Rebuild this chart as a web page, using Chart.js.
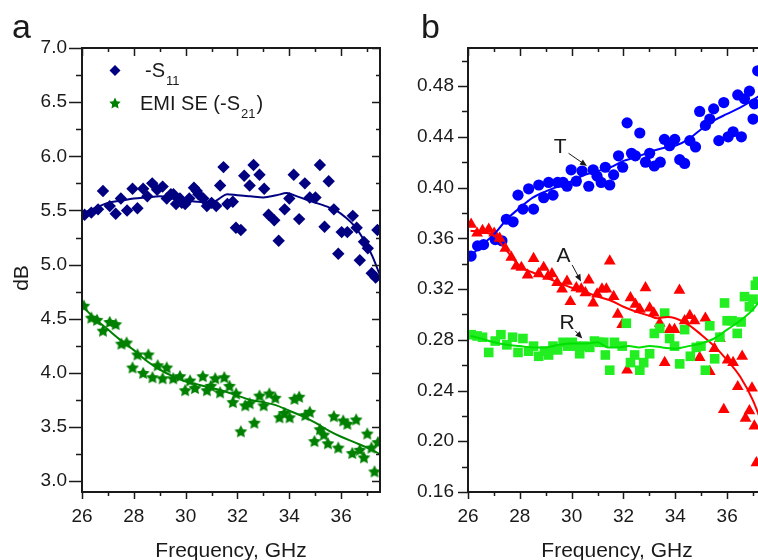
<!DOCTYPE html>
<html>
<head>
<meta charset="utf-8">
<title>EMI shielding</title>
<script src="https://cdn.jsdelivr.net/npm/chart.js@4.4.1/dist/chart.umd.min.js"></script>
<style>
html, body { margin: 0; padding: 0; background: #fff; overflow: hidden; width: 758px; height: 560px; }
#wrapA { position: absolute; left: 0; top: 0; width: 390px; height: 560px; }
#wrapB { position: absolute; left: 390px; top: 0; width: 390px; height: 560px; }
</style>
</head>
<body>
<div id="wrapA"><canvas id="chartA" width="390" height="560"></canvas></div>
<div id="wrapB"><canvas id="chartB" width="390" height="560"></canvas></div>
<script>
// tick labels
const freqTicks = [26, 28, 30, 32, 34, 36];
const dbTicks = [3.0, 3.5, 4.0, 4.5, 5.0, 5.5, 6.0, 6.5, 7.0];
const fracTicks = [0.16, 0.20, 0.24, 0.28, 0.32, 0.36, 0.40, 0.44, 0.48];

// panel a: -S11
const s11Freq = [26.1, 26.36, 26.62, 26.81, 27.07, 27.3, 27.5, 27.74, 27.95, 28.14, 28.36, 28.52, 28.71, 28.9, 29.11, 29.27, 29.43, 29.53, 29.63, 29.78, 29.85, 29.98, 30.14, 30.32, 30.43, 30.49, 30.68, 30.82, 31.0, 31.18, 31.33, 31.46, 31.61, 31.82, 31.94, 32.13, 32.26, 32.47, 32.62, 32.85, 33.03, 33.2, 33.42, 33.59, 33.82, 34.0, 34.17, 34.38, 34.6, 34.79, 35.01, 35.18, 35.36, 35.52, 35.72, 35.89, 36.02, 36.24, 36.45, 36.6, 36.72, 36.88, 37.03, 37.18, 37.33, 37.4];
const s11Val = [5.46, 5.48, 5.51, 5.68, 5.54, 5.47, 5.61, 5.50, 5.70, 5.52, 5.70, 5.63, 5.75, 5.69, 5.72, 5.61, 5.65, 5.65, 5.56, 5.61, 5.57, 5.56, 5.61, 5.71, 5.68, 5.65, 5.61, 5.54, 5.57, 5.54, 5.73, 5.90, 5.56, 5.58, 5.34, 5.32, 5.82, 5.73, 5.92, 5.83, 5.70, 5.46, 5.41, 5.22, 5.51, 5.61, 5.83, 5.42, 5.75, 5.62, 5.62, 5.92, 5.35, 5.77, 5.51, 5.10, 5.30, 5.30, 5.45, 5.34, 5.04, 5.21, 5.15, 4.92, 4.88, 5.32];
const s11FitFreq = [26.0, 26.5, 27.0, 27.5, 28.0, 28.5, 29.0, 29.5, 30.0, 30.5, 31.0, 31.3, 31.6, 32.0, 32.5, 33.0, 33.5, 33.9, 34.3, 34.9, 35.4, 35.8, 36.2, 36.5, 36.9, 37.2, 37.5];
const s11FitVal = [5.47, 5.52, 5.57, 5.59, 5.61, 5.62, 5.63, 5.61, 5.59, 5.58, 5.57, 5.61, 5.65, 5.64, 5.63, 5.62, 5.64, 5.66, 5.63, 5.58, 5.54, 5.50, 5.43, 5.36, 5.22, 5.08, 4.90];

// panel a: EMI SE (-S21)
const emiFreq = [26.07, 26.36, 26.58, 26.81, 27.07, 27.3, 27.52, 27.72, 27.95, 28.14, 28.36, 28.56, 28.72, 28.92, 29.11, 29.27, 29.52, 29.78, 29.98, 30.17, 30.36, 30.66, 30.82, 30.97, 31.14, 31.33, 31.49, 31.69, 31.82, 31.95, 32.13, 32.3, 32.47, 32.65, 32.85, 33.01, 33.23, 33.46, 33.62, 33.81, 34.01, 34.2, 34.38, 34.62, 34.79, 34.97, 35.18, 35.33, 35.49, 35.72, 35.89, 36.08, 36.24, 36.43, 36.58, 36.72, 36.88, 37.01, 37.17, 37.29, 37.42];
const emiVal = [4.62, 4.51, 4.49, 4.39, 4.47, 4.45, 4.27, 4.28, 4.05, 4.17, 4.00, 4.17, 3.96, 4.07, 3.95, 4.05, 3.95, 3.97, 3.84, 3.93, 3.86, 3.97, 3.84, 3.88, 3.95, 3.82, 3.96, 3.88, 3.73, 3.81, 3.46, 3.70, 3.72, 3.54, 3.79, 3.70, 3.81, 3.77, 3.59, 3.63, 3.59, 3.76, 3.78, 3.61, 3.64, 3.37, 3.48, 3.43, 3.35, 3.60, 3.31, 3.56, 3.53, 3.26, 3.57, 3.29, 3.22, 3.44, 3.31, 3.09, 3.36];
const emiFitFreq = [26.0, 26.5, 27.0, 27.5, 28.0, 28.5, 29.0, 29.5, 30.0, 30.5, 31.0, 31.5, 32.0, 32.5, 33.0, 33.5, 34.0, 34.5, 35.0, 35.5, 36.0, 36.5, 37.0, 37.5];
const emiFitVal = [4.62, 4.50, 4.40, 4.30, 4.21, 4.11, 4.03, 3.97, 3.92, 3.89, 3.86, 3.83, 3.79, 3.75, 3.73, 3.70, 3.65, 3.60, 3.54, 3.47, 3.41, 3.36, 3.31, 3.25];

// panel b: T
const tFreq = [26.12, 26.37, 26.6, 27.05, 27.31, 27.48, 27.74, 27.93, 28.12, 28.34, 28.53, 28.73, 28.92, 29.11, 29.28, 29.46, 29.67, 29.82, 29.98, 30.18, 30.4, 30.66, 30.83, 30.98, 31.14, 31.3, 31.47, 31.62, 31.81, 31.97, 32.14, 32.31, 32.46, 32.63, 32.85, 33.01, 33.19, 33.42, 33.58, 33.78, 33.98, 34.17, 34.36, 34.56, 34.78, 34.94, 35.16, 35.33, 35.48, 35.68, 35.87, 36.04, 36.23, 36.41, 36.55, 36.67, 36.86, 37.0, 37.05, 37.18];
const tVal = [0.346, 0.354, 0.355, 0.359, 0.358, 0.375, 0.373, 0.394, 0.383, 0.399, 0.383, 0.402, 0.392, 0.404, 0.394, 0.404, 0.404, 0.401, 0.414, 0.405, 0.413, 0.401, 0.414, 0.409, 0.404, 0.416, 0.402, 0.410, 0.425, 0.416, 0.451, 0.427, 0.425, 0.443, 0.420, 0.427, 0.417, 0.420, 0.438, 0.433, 0.438, 0.422, 0.419, 0.437, 0.432, 0.460, 0.449, 0.454, 0.462, 0.437, 0.467, 0.440, 0.444, 0.473, 0.440, 0.470, 0.476, 0.454, 0.466, 0.492];
const tFitFreq = [26.1, 26.5, 27.0, 27.5, 28.0, 28.5, 29.0, 29.5, 30.0, 30.5, 31.0, 31.5, 32.0, 32.5, 33.0, 33.5, 34.0, 34.5, 35.0, 35.5, 36.0, 36.5, 37.0, 37.5];
const tFitVal = [0.346, 0.354, 0.363, 0.375, 0.384, 0.392, 0.397, 0.401, 0.405, 0.410, 0.413, 0.416, 0.421, 0.424, 0.428, 0.431, 0.433, 0.438, 0.446, 0.453, 0.458, 0.463, 0.469, 0.476];

// panel b: A
const aFreq = [26.12, 26.35, 26.56, 26.8, 27.01, 27.22, 27.44, 27.67, 27.86, 28.06, 28.3, 28.53, 28.73, 28.92, 29.09, 29.24, 29.44, 29.63, 29.82, 29.95, 30.18, 30.37, 30.53, 30.66, 30.83, 30.98, 31.17, 31.34, 31.47, 31.62, 31.78, 31.95, 32.14, 32.27, 32.46, 32.63, 32.85, 33.01, 33.17, 33.4, 33.59, 33.78, 33.97, 34.16, 34.36, 34.56, 34.74, 34.94, 35.16, 35.33, 35.51, 35.72, 35.87, 36.02, 36.23, 36.41, 36.58, 36.71, 36.86, 36.96, 37.05, 37.13];
const aVal = [0.371, 0.364, 0.366, 0.367, 0.364, 0.360, 0.352, 0.345, 0.338, 0.337, 0.331, 0.344, 0.332, 0.337, 0.330, 0.332, 0.325, 0.320, 0.326, 0.310, 0.321, 0.320, 0.317, 0.327, 0.309, 0.316, 0.320, 0.320, 0.342, 0.314, 0.300, 0.292, 0.256, 0.313, 0.308, 0.304, 0.321, 0.305, 0.301, 0.293, 0.262, 0.288, 0.288, 0.319, 0.295, 0.299, 0.295, 0.266, 0.297, 0.255, 0.273, 0.281, 0.225, 0.264, 0.262, 0.243, 0.267, 0.218, 0.224, 0.242, 0.212, 0.183];
const aFitFreq = [26.1, 26.5, 27.0, 27.5, 28.0, 28.5, 29.0, 29.5, 30.0, 30.5, 31.0, 31.5, 32.0, 32.5, 33.0, 33.3, 33.7, 34.0, 34.5, 35.0, 35.5, 36.0, 36.5, 37.0, 37.5];
const aFitVal = [0.366, 0.365, 0.362, 0.350, 0.338, 0.333, 0.329, 0.325, 0.321, 0.318, 0.314, 0.311, 0.306, 0.302, 0.299, 0.297, 0.298, 0.297, 0.292, 0.284, 0.275, 0.264, 0.251, 0.232, 0.205];

// panel b: R
const rFreq = [26.12, 26.35, 26.56, 26.8, 27.05, 27.27, 27.5, 27.72, 27.93, 28.12, 28.34, 28.53, 28.73, 28.95, 29.11, 29.28, 29.46, 29.67, 29.85, 30.02, 30.18, 30.31, 30.49, 30.7, 30.88, 31.08, 31.24, 31.3, 31.47, 31.65, 31.95, 32.11, 32.27, 32.43, 32.63, 32.78, 33.01, 33.19, 33.4, 33.59, 33.78, 33.97, 34.17, 34.36, 34.58, 34.81, 34.99, 35.16, 35.33, 35.52, 35.72, 35.9, 36.0, 36.19, 36.39, 36.54, 36.67, 36.86, 37.0, 37.09, 37.18];
const rVal = [0.284, 0.283, 0.282, 0.270, 0.279, 0.284, 0.276, 0.282, 0.270, 0.281, 0.271, 0.275, 0.267, 0.271, 0.268, 0.275, 0.272, 0.278, 0.275, 0.278, 0.275, 0.269, 0.275, 0.274, 0.279, 0.278, 0.278, 0.268, 0.256, 0.278, 0.275, 0.293, 0.262, 0.268, 0.256, 0.262, 0.269, 0.285, 0.289, 0.301, 0.281, 0.275, 0.261, 0.288, 0.267, 0.274, 0.275, 0.256, 0.291, 0.265, 0.282, 0.309, 0.295, 0.295, 0.285, 0.294, 0.314, 0.306, 0.312, 0.323, 0.326];
const rFitFreq = [26.1, 26.5, 27.0, 27.5, 28.0, 28.5, 29.0, 29.5, 30.0, 30.5, 31.0, 31.4, 31.8, 32.2, 32.6, 33.0, 33.5, 34.0, 34.5, 35.0, 35.5, 36.0, 36.5, 37.0, 37.5];
const rFitVal = [0.283, 0.281, 0.278, 0.276, 0.275, 0.274, 0.274, 0.276, 0.277, 0.277, 0.278, 0.274, 0.274, 0.275, 0.274, 0.275, 0.274, 0.273, 0.275, 0.277, 0.281, 0.288, 0.295, 0.304, 0.318];

// arrow labels in panel b (text pos, arrow start, arrow end) in data units
const noteText = ['T', 'A', 'R'];
const noteAt = [[29.56, 0.432], [29.69, 0.346], [29.82, 0.293]];
const noteFrom = [[29.88, 0.427], [30.02, 0.339], [30.14, 0.287]];
const noteTo = [[30.59, 0.417], [30.36, 0.326], [30.41, 0.281]];

const FONT = '"Liberation Sans", Arial, sans-serif';
const INK = '#1a1a1a';

function pts(xs, ys) {
    return xs.map((x, i) => ({ x: x, y: ys[i] }));
}

function starImage(color, r) {
    const c = document.createElement('canvas');
    const s = Math.ceil(r * 2) + 2;
    c.width = s; c.height = s;
    const g = c.getContext('2d');
    g.fillStyle = color;
    g.beginPath();
    for (let i = 0; i < 10; i++) {
        const rad = i % 2 ? r * 0.5 : r;
        const ang = -Math.PI / 2 + i * Math.PI / 5;
        g.lineTo(s / 2 + rad * Math.cos(ang), s / 2 + 0.6 + rad * Math.sin(ang));
    }
    g.closePath();
    g.fill();
    return c;
}
const greenStar = starImage('#008000', 6.8);
const legendStar = starImage('#008000', 6);

// frame + ticks on four sides, Origin style
function frameTicks(o) {
    return {
        id: 'frameTicks',
        afterDraw(chart) {
            const { ctx, chartArea: a, scales: { x, y } } = chart;
            ctx.save();
            ctx.strokeStyle = INK;
            ctx.lineWidth = 1.5;
            ctx.beginPath();
            for (let k = -30; k < 60; k++) {
                const v = o.xStart + k * o.xMinor;
                if (v < x.min - 1e-9 || v > x.max + 1e-9) continue;
                const major = Math.abs(Math.round(k / 2) * 2 - k) < 1e-9;
                const px = Math.round(x.getPixelForValue(v)) + 0.5;
                ctx.moveTo(px, a.bottom);
                ctx.lineTo(px, a.bottom + (major ? o.bottomMajor : o.bottomMinor));
                ctx.moveTo(px, a.top);
                ctx.lineTo(px, a.top + (major ? 8 : 4));
            }
            for (let k = -30; k < 60; k++) {
                const v = o.yStart + k * o.yMinor;
                if (v < y.min - 1e-9 || v > y.max + 1e-9) continue;
                const major = k % 2 === 0;
                const py = Math.round(y.getPixelForValue(v)) + 0.5;
                ctx.moveTo(a.left - (major ? o.leftMajor : o.leftMinor), py);
                ctx.lineTo(a.left, py);
                ctx.moveTo(a.right - (major ? 8 : 4), py);
                ctx.lineTo(a.right, py);
            }
            ctx.stroke();
            ctx.lineWidth = 2;
            ctx.strokeRect(a.left, a.top, a.right - a.left, a.bottom - a.top);
            ctx.restore();
        }
    };
}

function axisOptions(yMin, yMax, yTicks, digits, yWidth, yPad) {
    return {
        x: {
            type: 'linear', min: 26, max: 37.5,
            grid: { display: false, drawTicks: false },
            border: { display: false },
            afterBuildTicks: s => { s.ticks = freqTicks.map(v => ({ value: v })); },
            afterFit: s => { s.height = 68; },
            ticks: { padding: 13, autoSkip: false, maxRotation: 0, color: INK, font: { family: FONT, size: 19 }, callback: v => String(v) }
        },
        y: {
            type: 'linear', min: yMin, max: yMax,
            grid: { display: false, drawTicks: false },
            border: { display: false },
            afterBuildTicks: s => { s.ticks = yTicks.map(v => ({ value: v })); },
            afterFit: s => { s.width = yWidth; },
            ticks: { padding: yPad, autoSkip: false, color: INK, font: { family: FONT, size: 19 }, callback: v => Number(v).toFixed(digits) }
        }
    };
}

function fitLine(xs, ys, color) {
    return {
        data: pts(xs, ys), showLine: true, pointRadius: 0, borderColor: color,
        borderWidth: 2, cubicInterpolationMode: 'monotone', order: 0
    };
}

function xTitle(chart) {
    const { ctx, chartArea: a } = chart;
    ctx.fillStyle = INK;
    ctx.font = '21px ' + FONT;
    ctx.textAlign = 'center';
    ctx.textBaseline = 'alphabetic';
    ctx.fillText('Frequency, GHz', (a.left + a.right) / 2, 557);
}

// ---------- panel a ----------
const panelA = {
    id: 'panelA',
    afterDraw(chart) {
        const { ctx, chartArea: a } = chart;
        ctx.save();
        xTitle(chart);
        ctx.font = '34px ' + FONT;
        ctx.textAlign = 'left';
        ctx.fillText('a', 12, 38);
        // y title
        ctx.save();
        ctx.translate(28, 278);
        ctx.rotate(-Math.PI / 2);
        ctx.font = '21px ' + FONT;
        ctx.textAlign = 'center';
        ctx.fillText('dB', 0, 0);
        ctx.restore();
        // legend
        const lx = a.left + 33;
        ctx.fillStyle = '#000080';
        Chart.helpers.drawPoint(ctx, { pointStyle: 'rectRot', radius: 5.5, borderWidth: 0, rotation: 0 }, lx, 70.5);
        ctx.drawImage(legendStar, lx - legendStar.width / 2, 103 - legendStar.height / 2);
        ctx.fillStyle = INK;
        ctx.textAlign = 'left';
        ctx.font = '20px ' + FONT;
        ctx.fillText('-S', 145, 77);
        let w = ctx.measureText('-S').width;
        ctx.font = '13px ' + FONT;
        ctx.fillText('11', 145 + w + 1, 85);
        ctx.font = '20px ' + FONT;
        ctx.fillText('EMI SE (-S', 140, 110);
        w = ctx.measureText('EMI SE (-S').width;
        ctx.font = '13px ' + FONT;
        ctx.fillText('21', 140 + w + 1, 118);
        const w2 = ctx.measureText('21').width;
        ctx.font = '20px ' + FONT;
        ctx.fillText(')', 140 + w + w2 + 2, 110);
        ctx.restore();
    }
};

new Chart(document.getElementById('chartA'), {
    type: 'scatter',
    data: {
        datasets: [
            fitLine(s11FitFreq, s11FitVal, '#000080'),
            fitLine(emiFitFreq, emiFitVal, '#008000'),
            { data: pts(s11Freq, s11Val), pointStyle: 'rectRot', pointRadius: 6.2, pointBackgroundColor: '#000080', pointBorderWidth: 0, order: 1 },
            { data: pts(emiFreq, emiVal), pointStyle: greenStar, pointRadius: 7, order: 1 }
        ]
    },
    options: {
        responsive: false, animation: false,
        layout: { padding: { top: 48, right: 10, left: 0, bottom: 0 } },
        plugins: { legend: { display: false }, tooltip: { enabled: false } },
        scales: axisOptions(2.9, 7.0, dbTicks, 1, 82, 15)
    },
    plugins: [frameTicks({ xStart: 26, xMinor: 1, yStart: 3.0, yMinor: 0.25, leftMajor: 13, leftMinor: 6, bottomMajor: 7, bottomMinor: 4 }), panelA]
});

// ---------- panel b ----------
const panelB = {
    id: 'panelB',
    afterDraw(chart) {
        const { ctx, scales: { x, y } } = chart;
        ctx.save();
        xTitle(chart);
        ctx.font = '34px ' + FONT;
        ctx.textAlign = 'left';
        ctx.fillText('b', 31, 38);
        ctx.font = '21px ' + FONT;
        ctx.textAlign = 'center';
        ctx.textBaseline = 'middle';
        ctx.strokeStyle = INK;
        ctx.lineWidth = 1;
        for (let i = 0; i < noteText.length; i++) {
            ctx.fillText(noteText[i], x.getPixelForValue(noteAt[i][0]), y.getPixelForValue(noteAt[i][1]));
            const x0 = x.getPixelForValue(noteFrom[i][0]), y0 = y.getPixelForValue(noteFrom[i][1]);
            const x1 = x.getPixelForValue(noteTo[i][0]), y1 = y.getPixelForValue(noteTo[i][1]);
            const ang = Math.atan2(y1 - y0, x1 - x0);
            ctx.beginPath();
            ctx.moveTo(x0, y0);
            ctx.lineTo(x1 - 5 * Math.cos(ang), y1 - 5 * Math.sin(ang));
            ctx.stroke();
            ctx.beginPath();
            ctx.moveTo(x1, y1);
            ctx.lineTo(x1 - 7 * Math.cos(ang) + 3 * Math.sin(ang), y1 - 7 * Math.sin(ang) - 3 * Math.cos(ang));
            ctx.lineTo(x1 - 7 * Math.cos(ang) - 3 * Math.sin(ang), y1 - 7 * Math.sin(ang) + 3 * Math.cos(ang));
            ctx.closePath();
            ctx.fill();
        }
        ctx.restore();
    }
};

new Chart(document.getElementById('chartB'), {
    type: 'scatter',
    data: {
        datasets: [
            fitLine(rFitFreq, rFitVal, '#00e000'),
            fitLine(aFitFreq, aFitVal, '#ff0000'),
            fitLine(tFitFreq, tFitVal, '#0000ff'),
            { data: pts(rFreq, rVal), pointStyle: 'rect', pointRadius: 6.8, pointBackgroundColor: '#22ee22', pointBorderWidth: 0, order: 1 },
            { data: pts(aFreq, aVal), pointStyle: 'triangle', pointRadius: 6.8, pointBackgroundColor: '#ff0000', pointBorderWidth: 0, order: 2 },
            { data: pts(tFreq, tVal), pointStyle: 'circle', pointRadius: 5.6, pointBackgroundColor: '#0000ff', pointBorderWidth: 0, order: 3 }
        ]
    },
    options: {
        responsive: false, animation: false,
        layout: { padding: { top: 48, right: 14, left: 0, bottom: 0 } },
        plugins: { legend: { display: false }, tooltip: { enabled: false } },
        scales: axisOptions(0.16, 0.51, fracTicks, 2, 78, 14)
    },
    plugins: [frameTicks({ xStart: 26, xMinor: 1, yStart: 0.16, yMinor: 0.02, leftMajor: 10, leftMinor: 6, bottomMajor: 7, bottomMinor: 4 }), panelB]
});
</script>
</body>
</html>
